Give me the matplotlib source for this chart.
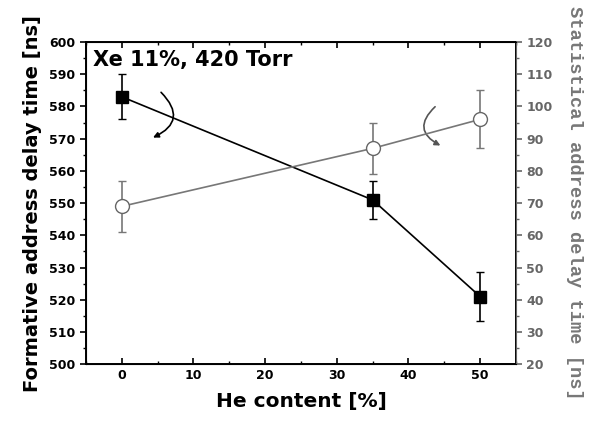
import numpy as np
import matplotlib.pyplot as plt
from matplotlib.patches import FancyArrowPatch

# He content [%]
he = [0, 35, 50]
# formative delay (left axis) and error
t_form = [583, 551, 521]
t_form_err = [7, 6, 7.5]
# statistical delay (right axis) and error
t_stat = [69, 87, 96]
t_stat_err = [8, 8, 9]

plt.rcParams['font.family'] = 'DejaVu Sans'
plt.rcParams['font.weight'] = 'bold'

fig = plt.figure(figsize=(5.89, 4.29), dpi=100)
ax = fig.add_axes([0.146, 0.151, 0.730, 0.751])
ax2 = ax.twinx()

ax.errorbar(he, t_form, yerr=t_form_err, fmt='-s', color='k', ms=8,
            lw=1.2, capsize=3, elinewidth=1.2, zorder=3)
ax2.errorbar(he, t_stat, yerr=t_stat_err, fmt='-o', color='#777777',
             mfc='white', mec='#666666', ms=10, lw=1.2, capsize=3,
             elinewidth=1.2, zorder=3)

ax.set_xlim(-5, 55)
ax.set_ylim(500, 600)
ax2.set_ylim(20, 120)
ax.set_xticks(np.arange(0, 51, 10))
ax.set_xticks(np.arange(-5, 56, 5), minor=True)
ax.set_yticks(np.arange(500, 601, 10))
ax.set_yticks(np.arange(500, 601, 5), minor=True)
ax2.set_yticks(np.arange(20, 121, 10))
ax2.set_yticks(np.arange(20, 121, 5), minor=True)

ax.tick_params(axis='x', which='both', direction='in', top=True)
ax.tick_params(axis='y', which='both', direction='out', right=False)
ax.tick_params(which='major', length=4, width=1.2, labelsize=9)
ax.tick_params(which='minor', length=2, width=1)
ax2.tick_params(which='major', length=4, width=1.2, labelsize=9,
                colors='#666666', direction='out')
ax2.tick_params(which='minor', length=2, width=1, colors='#666666',
                direction='out')
for lab in ax.get_xticklabels() + ax.get_yticklabels():
    lab.set_fontweight('bold')
for lab in ax2.get_yticklabels():
    lab.set_fontweight('bold')

for s in ax.spines.values():
    s.set_linewidth(1.4)
ax2.spines['right'].set_color('#666666')

ax.set_xlabel('He content [%]', fontsize=14.5, fontweight='bold', labelpad=7)
ax.set_ylabel('Formative address delay time [ns]', fontsize=14,
              fontweight='bold', labelpad=5)
ax2.set_ylabel('Statistical address delay time [ns]', fontsize=13.5,
               fontweight='bold', family='Liberation Mono', color='#777777',
               rotation=270, labelpad=22)

ax.text(-4, 597.5, 'Xe 11%, 420 Torr', fontsize=15, fontweight='bold',
        va='top', ha='left')

# curved arrows pointing to the axis each series belongs to
a1 = FancyArrowPatch((5.2, 585), (4.0, 570), transform=ax.transData,
                     connectionstyle='arc3,rad=-0.75', arrowstyle='-|>',
                     mutation_scale=8, color='k', lw=1.2)
ax.add_patch(a1)
a2 = FancyArrowPatch((44.0, 100.5), (44.8, 87.5), transform=ax2.transData,
                     connectionstyle='arc3,rad=0.75', arrowstyle='-|>',
                     mutation_scale=8, color='#555555', lw=1.2)
ax2.add_patch(a2)

plt.savefig('out.png', dpi=100)
